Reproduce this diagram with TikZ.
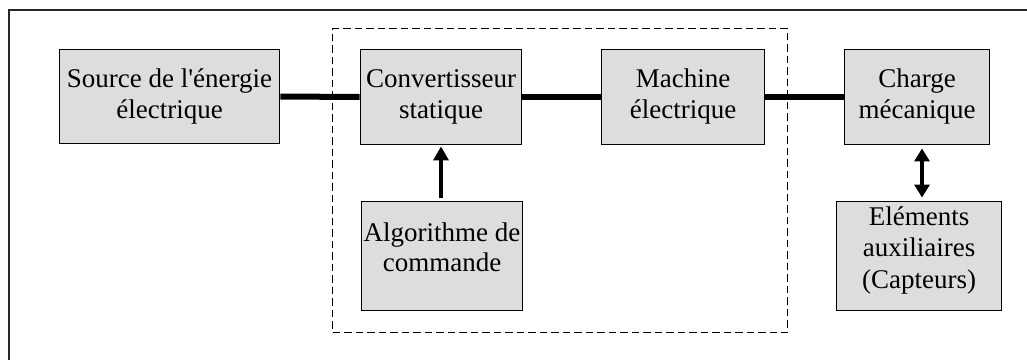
\documentclass[tikz,border=0pt]{standalone}
\usepackage{fontspec}
\setmainfont{Liberation Serif}
\usetikzlibrary{arrows.meta}
\definecolor{boxgray}{RGB}{221,221,221}
\definecolor{framegray}{RGB}{40,40,40}
\begin{document}
\begin{tikzpicture}[x=1pt,y=-1pt,
  box/.style={draw=black, line width=1.9pt, fill=boxgray, inner sep=0pt, align=center,
              font=\fontsize{27}{31}\selectfont},
  txt/.style={inner sep=0pt, align=center, font=\fontsize{27}{30}\selectfont},
  link/.style={line width=6pt, black},
  sig/.style={line width=4.5pt, -{Triangle[length=14pt,width=15pt]}},
  bisig/.style={line width=4.5pt, {Triangle[length=13pt,width=15pt]}-{Triangle[length=13pt,width=15pt]}},
  grp/.style={draw=black, line width=1.7pt, dash pattern=on 7.5pt off 4pt, inner sep=0pt}
]
\useasboundingbox (0,0) rectangle (1027,359);
% outer frame (cropped)
\coordinate (fbl) at (9,362);
\coordinate (ftl) at (9,10);
\coordinate (ftr) at (1030,10);
\draw[line width=2pt, framegray] (fbl) -- (ftl) -- (ftr);
% dashed group
\node[grp, minimum width=455pt, minimum height=304pt] (group) at (560,180.5) {};
% boxes
\node[box, minimum width=220pt, minimum height=94pt] (src) at (169.5,96.5) {Source de l\textquotesingle énergie\\électrique};
\node[box, minimum width=161pt, minimum height=95pt] (conv) at (441,97) {Convertisseur\\statique};
\node[box, minimum width=163pt, minimum height=95pt] (mach) at (683,97) {Machine\\électrique};
\node[box, minimum width=145pt, minimum height=95pt] (charge) at (917,97) {Charge\\mécanique};
\node[box, minimum width=161pt, minimum height=109pt] (algo) at (442,256) {};
\node[txt] (algotxt) at (442,247) {Algorithme de\\commande};
\node[box, minimum width=165pt, minimum height=109pt] (elem) at (919,256) {};
\node[txt, font=\fontsize{27}{31.5}\selectfont] (elemtxt) at (919,250) {Eléments\\auxiliaires\\(Capteurs)};
% power links
\draw[link] (src.east) -- (conv.west);
\draw[link] (conv.east) -- (mach.west);
\draw[link] (mach.east) -- (charge.west);
% control arrow
\coordinate (ax) at (441,0);
\draw[sig, shorten <=3pt, shorten >=1pt] (algo.north -| ax) -- (conv.south -| ax);
% bidirectional arrow
\coordinate (bx) at (922,0);
\draw[bisig, shorten <=3pt, shorten >=3pt] (charge.south -| bx) -- (elem.north -| bx);
\end{tikzpicture}
\end{document}
